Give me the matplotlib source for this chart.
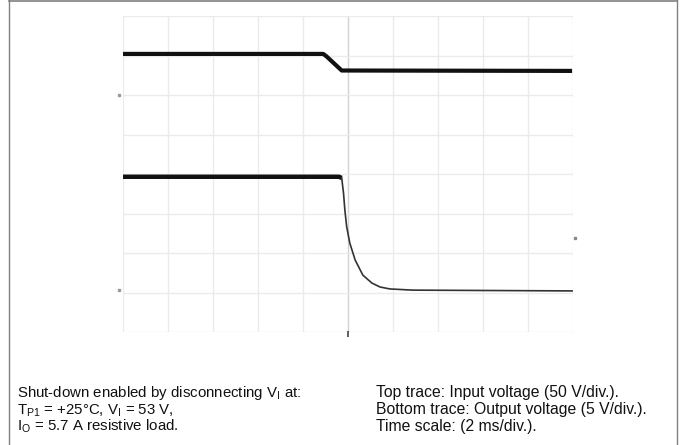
import matplotlib
matplotlib.use("Agg")
import matplotlib.pyplot as plt
from matplotlib.lines import Line2D

plt.rcParams['font.family'] = ['Liberation Sans', 'DejaVu Sans']
plt.rcParams['mathtext.fontset'] = 'custom'
plt.rcParams['mathtext.rm'] = 'Liberation Sans'

# time in divisions (2 ms/div), level in divisions
top_t = [0.0, 4.45, 4.52, 4.86, 9.98]
top_v = [7.04, 7.04, 6.98, 6.62, 6.61]

bot_pre_t = [0.0, 4.80, 4.86]
bot_pre_v = [3.93, 3.93, 3.90]

bot_post_t = [4.86, 4.90, 4.93, 4.97, 5.04, 5.16, 5.33, 5.53, 5.71, 5.93, 6.44, 9.98]
bot_post_v = [3.90, 3.52, 3.09, 2.67, 2.25, 1.82, 1.44, 1.24, 1.14, 1.09, 1.06, 1.04]

n_xdiv = 10
n_ydiv = 8

left_lines = ["Shut-down enabled by disconnecting V$_\\mathregular{I}$ at:",
              "T$_\\mathregular{P1}$ = +25°C, V$_\\mathregular{I}$ = 53 V,",
              "I$_\\mathregular{O}$ = 5.7 A resistive load."]
right_lines = ["Top trace: Input voltage (50 V/div.).",
               "Bottom trace: Output voltage (5 V/div.).",
               "Time scale: (2 ms/div.)."]

W, H = 680, 445
fig = plt.figure(figsize=(W / 100, H / 100), dpi=100)
ax = fig.add_axes([123 / W, 1 - 332 / H, 450 / W, 316 / H])
ax.set_xlim(0, n_xdiv)
ax.set_ylim(0, n_ydiv)
for s in ax.spines.values():
    s.set_visible(False)
ax.set_xticks([])
ax.set_yticks([])

for i in range(n_xdiv + 1):
    c = '#d2d2d2' if i == 5 else '#ebebeb'
    ax.axvline(i, color=c, lw=1.0, zorder=1)
for j in range(n_ydiv + 1):
    ax.axhline(j, color='#ebebeb', lw=1.0, zorder=1)

ax.plot(top_t, top_v, color='#111111', lw=3.0, solid_capstyle='butt', solid_joinstyle='round', zorder=3)
ax.plot(bot_pre_t, bot_pre_v, color='#111111', lw=3.2, solid_capstyle='butt', zorder=3)
ax.plot(bot_post_t, bot_post_v, color='#333333', lw=1.2, zorder=3)

# small markers
ax.plot([5], [-0.05], marker='|', color='#444444', ms=4, mew=1.2, clip_on=False)
ax.plot([-0.09], [6.0], marker='s', color='#999999', ms=2, clip_on=False)
ax.plot([-0.09], [1.06], marker='s', color='#999999', ms=2, clip_on=False)
ax.plot([10.05], [2.39], marker='s', color='#888888', ms=2, clip_on=False)

# border
fig.add_artist(Line2D([9 / W, 9 / W], [0, 1], color='#808080', lw=1.0))
fig.add_artist(Line2D([677 / W, 677 / W], [0, 1], color='#808080', lw=1.0))
fig.add_artist(Line2D([9 / W, 677 / W], [1 - 0.6 / H, 1 - 0.6 / H], color='#808080', lw=1.2))

base = [397, 414, 430.5]
for k in range(3):
    fig.text(17 / W, 1 - base[k] / H, left_lines[k], fontsize=10.8, va='baseline', ha='left', color='#111111')
    fig.text(376 / W, 1 - base[k] / H, right_lines[k], fontsize=11.3, va='baseline', ha='left', color='#111111')

fig.savefig('out.png', dpi=100)
